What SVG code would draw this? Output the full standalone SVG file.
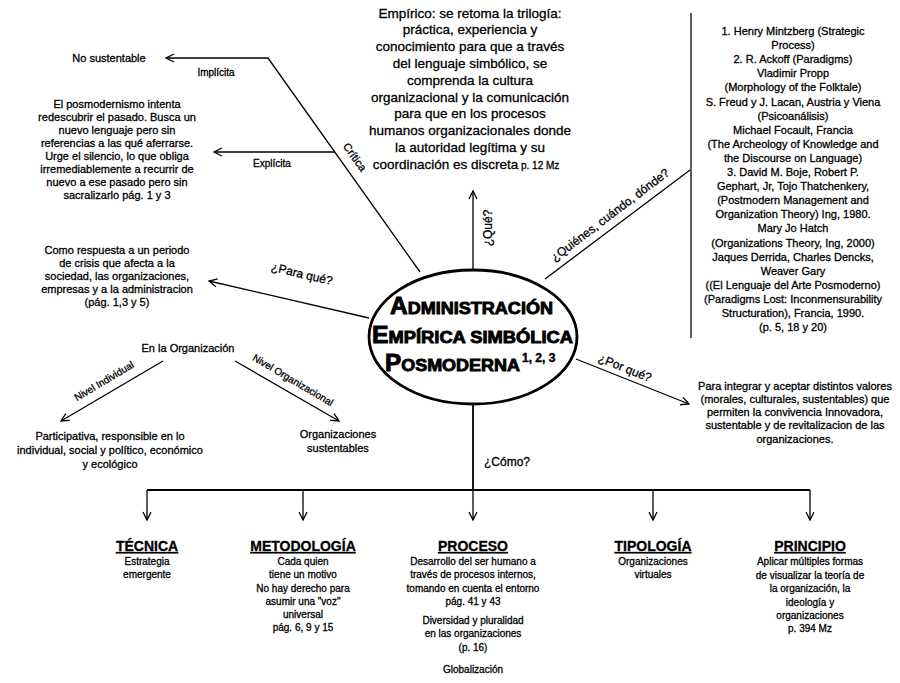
<svg xmlns="http://www.w3.org/2000/svg" width="900" height="683" viewBox="0 0 900 683">
<style>
text{font-family:"Liberation Sans",Arial,sans-serif;fill:#000;stroke:#000;stroke-width:0.3;text-anchor:middle}
.b14{font-size:13.5px}
.b11{font-size:11px}
.b10{font-size:10px}
.s95{font-size:10px}
.lab{font-size:12px}
.hd{font-size:14px;font-weight:bold;text-decoration:underline}
.ttl{font-weight:bold;text-anchor:start;stroke-width:0.9}
.ln{fill:none;stroke:#000;stroke-width:1.3}
.bar{fill:none;stroke:#000;stroke-width:1.8}
</style>
<defs>
<marker id="ah" markerUnits="userSpaceOnUse" markerWidth="12" markerHeight="12" refX="9" refY="5" orient="auto">
<path d="M1,1 L9,5 L1,9" fill="none" stroke="#000" stroke-width="1.3"/>
</marker>
</defs>
<rect width="900" height="683" fill="#fff"/>

<g id="connectors">
<polyline class="ln" points="420,272 268,58 166,58" marker-end="url(#ah)"/>
<line class="ln" x1="335" y1="152" x2="214" y2="152" marker-end="url(#ah)"/>
<line class="ln" x1="473" y1="270" x2="473" y2="191" marker-end="url(#ah)"/>
<line class="ln" x1="545" y1="279" x2="690" y2="170"/>
<line class="ln" x1="691" y1="13" x2="691" y2="338"/>
<line class="ln" x1="369" y1="318" x2="209" y2="281" marker-end="url(#ah)"/>
<line class="ln" x1="576" y1="359" x2="689" y2="404" marker-end="url(#ah)"/>
<line class="ln" x1="163" y1="361" x2="61" y2="421" marker-end="url(#ah)"/>
<line class="ln" x1="235" y1="361" x2="339" y2="421" marker-end="url(#ah)"/>
<line class="bar" x1="473" y1="405" x2="473" y2="490"/>
<line class="bar" x1="147" y1="490" x2="810" y2="490"/>
<line class="ln" x1="147" y1="490" x2="147" y2="520" marker-end="url(#ah)"/>
<line class="ln" x1="303" y1="490" x2="303" y2="520" marker-end="url(#ah)"/>
<line class="ln" x1="473" y1="490" x2="473" y2="520" marker-end="url(#ah)"/>
<line class="ln" x1="653" y1="490" x2="653" y2="520" marker-end="url(#ah)"/>
<line class="ln" x1="810" y1="490" x2="810" y2="520" marker-end="url(#ah)"/>
<text class="b11" transform="translate(355,157) rotate(54.7)" y="4">Crítica</text>
<text class="b10" x="216" y="76">Implícita</text>
<text class="b10" x="272" y="167">Explícita</text>
<text class="lab" transform="translate(488,228) rotate(-90)" y="4">¿Qué?</text>
<text class="lab" transform="translate(610,215) rotate(-37.2)" y="4">¿Quiénes, cuándo, dónde?</text>
<text class="lab" transform="translate(302,274) rotate(13.4)" y="4">¿Para qué?</text>
<text class="lab" transform="translate(625,368) rotate(21.7)" y="4">¿Por qué?</text>
<text class="b10" transform="translate(104,381) rotate(-31)" y="3.5">Nivel Individual</text>
<text class="b10" transform="translate(293,380) rotate(30.6)" y="3.5">Nivel Organizacional</text>
<text class="lab" x="507" y="466">¿Cómo?</text>
</g>

<g id="center">
<ellipse cx="473" cy="337" rx="104" ry="67" fill="none" stroke="#000" stroke-width="2.8"/>
<text class="ttl" x="390" y="314" textLength="163" lengthAdjust="spacingAndGlyphs"><tspan font-size="23">A</tspan><tspan font-size="17">DMINISTRACIÓN</tspan></text>
<text class="ttl" x="372" y="343" textLength="201" lengthAdjust="spacingAndGlyphs"><tspan font-size="23">E</tspan><tspan font-size="17">MPÍRICA SIMBÓLICA</tspan></text>
<text class="ttl" x="385" y="371" textLength="135" lengthAdjust="spacingAndGlyphs"><tspan font-size="23">P</tspan><tspan font-size="17">OSMODERNA</tspan></text>
<text class="ttl" x="522" y="362" font-size="12" style="stroke-width:0.4">1, 2, 3</text>
</g>

<g id="que">
<text class="b14" x="470" y="17.5">Empírico: se retoma la trilogía:</text>
<text class="b14" x="470" y="34.3">práctica, experiencia y</text>
<text class="b14" x="470" y="51.1">conocimiento para que a través</text>
<text class="b14" x="470" y="67.9">del lenguaje simbólico, se</text>
<text class="b14" x="470" y="84.7">comprenda la cultura</text>
<text class="b14" x="470" y="101.5">organizacional y la comunicación</text>
<text class="b14" x="470" y="118.3">para que en los procesos</text>
<text class="b14" x="470" y="135.1">humanos organizacionales donde</text>
<text class="b14" x="470" y="151.9">la autoridad legítima y su</text>
<text class="b14" x="466" y="168.7">coordinación es discreta<tspan font-size="10"> p. 12 Mz</tspan></text>
</g>

<g id="critica-implicita">
<text class="b11" x="109" y="62">No sustentable</text>
</g>

<g id="critica-explicita">
<text class="b11" x="117" y="108">El posmodernismo intenta</text>
<text class="b11" x="117" y="121">redescubrir el pasado. Busca un</text>
<text class="b11" x="117" y="134">nuevo lenguaje pero sin</text>
<text class="b11" x="117" y="147">referencias a las qué aferrarse.</text>
<text class="b11" x="117" y="160">Urge el silencio, lo que obliga</text>
<text class="b11" x="117" y="173">irremediablemente a recurrir de</text>
<text class="b11" x="117" y="186">nuevo a ese pasado pero sin</text>
<text class="b11" x="117" y="199">sacralizarlo pág. 1 y 3</text>
</g>

<g id="quienes">
<text class="b11" x="793" y="35">1. Henry Mintzberg (Strategic</text>
<text class="b11" x="793" y="49.1">Process)</text>
<text class="b11" x="793" y="63.2">2. R. Ackoff (Paradigms)</text>
<text class="b11" x="793" y="77.3">Vladimir Propp</text>
<text class="b11" x="793" y="91.4">(Morphology of the Folktale)</text>
<text class="b11" x="793" y="105.5">S. Freud y J. Lacan, Austria y Viena</text>
<text class="b11" x="793" y="119.6">(Psicoanálisis)</text>
<text class="b11" x="793" y="133.7">Michael Focault, Francia</text>
<text class="b11" x="793" y="147.8">(The Archeology of Knowledge and</text>
<text class="b11" x="793" y="161.9">the Discourse on Language)</text>
<text class="b11" x="793" y="176">3. David  M. Boje, Robert P.</text>
<text class="b11" x="793" y="190.1">Gephart, Jr, Tojo Thatchenkery,</text>
<text class="b11" x="793" y="204.2">(Postmodern Management and</text>
<text class="b11" x="793" y="218.3">Organization Theory) Ing, 1980.</text>
<text class="b11" x="793" y="232.4">Mary Jo Hatch</text>
<text class="b11" x="793" y="246.5">(Organizations Theory, Ing, 2000)</text>
<text class="b11" x="793" y="260.6">Jaques Derrida, Charles Dencks,</text>
<text class="b11" x="793" y="274.7">Weaver Gary</text>
<text class="b11" x="793" y="288.8">((El Lenguaje del Arte Posmoderno)</text>
<text class="b11" x="793" y="302.9">(Paradigms Lost: Inconmensurability</text>
<text class="b11" x="793" y="317">Structuration), Francia, 1990.</text>
<text class="b11" x="793" y="331.1">(p. 5, 18 y 20)</text>
</g>

<g id="para-que">
<text class="b11" x="117" y="254">Como respuesta a un periodo</text>
<text class="b11" x="117" y="267">de crisis que afecta a la</text>
<text class="b11" x="117" y="280">sociedad, las organizaciones,</text>
<text class="b11" x="117" y="293">empresas y a la administracion</text>
<text class="b11" x="117" y="306">(pág. 1,3 y 5)</text>
</g>

<g id="organizacion">
<text class="b11" x="188" y="352">En la Organización</text>
</g>

<g id="individual">
<text class="b11" x="110" y="440">Participativa, responsible en lo</text>
<text class="b11" x="110" y="454">individual, social y político, económico</text>
<text class="b11" x="110" y="468">y ecológico</text>
</g>

<g id="organizacional">
<text class="b11" x="338" y="438">Organizaciones</text>
<text class="b11" x="338" y="452">sustentables</text>
</g>

<g id="por-que">
<text class="b11" x="795" y="390">Para integrar y aceptar distintos valores</text>
<text class="b11" x="795" y="403">(morales,  culturales, sustentables) que</text>
<text class="b11" x="795" y="416">permiten la convivencia Innovadora,</text>
<text class="b11" x="795" y="429">sustentable y de revitalizacion de las</text>
<text class="b11" x="795" y="443">organizaciones.</text>
</g>

<g id="tecnica">
<text class="hd" x="147" y="551">TÉCNICA</text>
<text class="s95" x="147" y="565">Estrategia</text>
<text class="s95" x="147" y="578">emergente</text>
</g>

<g id="metodologia">
<text class="hd" x="303" y="551">METODOLOGÍA</text>
<text class="s95" x="303" y="565">Cada quien</text>
<text class="s95" x="303" y="578">tiene un motivo</text>
<text class="s95" x="303" y="591.5">No hay derecho para</text>
<text class="s95" x="303" y="604.5">asumir una "voz"</text>
<text class="s95" x="303" y="618">universal</text>
<text class="s95" x="303" y="631">pág. 6, 9 y 15</text>
</g>

<g id="proceso">
<text class="hd" x="473" y="551">PROCESO</text>
<text class="s95" x="473" y="565">Desarrollo del ser humano a</text>
<text class="s95" x="473" y="578">través de procesos internos,</text>
<text class="s95" x="473" y="591.5">tomando en cuenta el entorno</text>
<text class="s95" x="473" y="605">pág. 41 y 43</text>
<text class="s95" x="473" y="624">Diversidad y pluralidad</text>
<text class="s95" x="473" y="637">en las organizaciones</text>
<text class="s95" x="473" y="651">(p. 16)</text>
<text class="s95" x="473" y="673">Globalización</text>
</g>

<g id="tipologia">
<text class="hd" x="653" y="551">TIPOLOGÍA</text>
<text class="s95" x="653" y="565">Organizaciones</text>
<text class="s95" x="653" y="578">virtuales</text>
</g>

<g id="principio">
<text class="hd" x="810" y="551">PRINCIPIO</text>
<text class="s95" x="810" y="565">Aplicar múltiples formas</text>
<text class="s95" x="810" y="578.5">de visualizar la teoría de</text>
<text class="s95" x="810" y="592">la organización, la</text>
<text class="s95" x="810" y="605.5">ideología y</text>
<text class="s95" x="810" y="619">organizaciones</text>
<text class="s95" x="810" y="632">p. 394 Mz</text>
</g>
</svg>
